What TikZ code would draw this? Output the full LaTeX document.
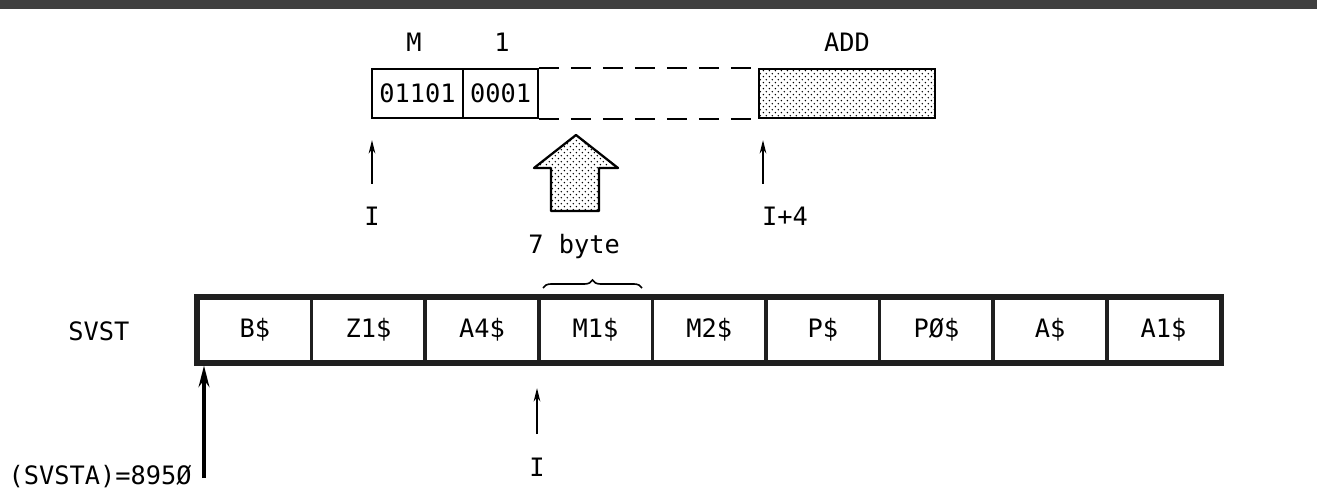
\documentclass[tikz,border=0pt]{standalone}
\usepackage{fontspec}
\setmonofont{DejaVu Sans Mono}
\usetikzlibrary{patterns,patterns.meta,decorations.pathreplacing,arrows.meta}
\tikzdeclarepattern{name=fdots, type=uncolored,
  bounding box={(0pt,0pt) and (4.4pt,4.4pt)}, tile size={(4.4pt,4.4pt)},
  code={\fill (1.1pt,1.1pt) circle (0.6pt); \fill (3.3pt,3.3pt) circle (0.6pt);}}
\tikzset{
  txt/.style={font=\ttfamily\fontsize{19}{21}\selectfont, inner sep=0pt},
  topcell/.style={draw, line width=1.3pt, minimum height=36.75pt, inner sep=0pt, font=\ttfamily\fontsize{19}{21}\selectfont},
  cell/.style={draw, black!88, text=black, line width=2.8pt, minimum width=85.2pt, minimum height=48.5pt, inner sep=0pt, font=\ttfamily\fontsize{19}{21}\selectfont},
  thinarr/.style={line width=1.2pt, -{Stealth[length=10pt,width=5pt]}},
  bigarr/.style={line width=2.8pt, -{Stealth[length=16pt,width=8pt]}},
  dots/.style={pattern={fdots}, pattern color=black}
}
\begin{document}
\begin{tikzpicture}[x=0.75pt,y=-0.75pt]
\useasboundingbox (0,0) rectangle (1317,495);
% scanned top band
\fill[black!75] (0,0) rectangle (1317,9);

% ---- top record ----
\node[topcell, minimum width=68.25pt] (t1) at (417.5,93.5) {01101};
\node[topcell, minimum width=56.25pt] (t2) at (500.5,93.5) {0001};
\node[topcell, minimum width=132pt, dots] (tadd) at (847,93.5) {};
\draw[line width=1.3pt, dash pattern=on 15pt off 9pt] (t2.north east) -- (tadd.north west);
\draw[line width=1.3pt, dash pattern=on 15pt off 9pt] (t2.south east) -- (tadd.south west);

\node[txt] (lm) at (414,42) {M};
\node[txt] (l1) at (502,42) {1};
\node[txt] (ladd) at (847,42) {ADD};

% pointers on top record
\node[txt] (li) at (372,216) {I};
\node[txt] (li4) at (785,216) {I+4};
\coordinate (ia) at (372,184);
\coordinate (ib) at (763,184);
\draw[thinarr, shorten >=16pt] (ia) -- (ia |- t1.south);
\draw[thinarr, shorten >=16pt] (ib) -- (ib |- tadd.south);

% fat arrow
\draw[line width=1.7pt, dots, line join=round]
  (576,135) -- (618,168) -- (599,168) -- (599,211) -- (551,211) -- (551,168) -- (534,168) -- cycle;

% ---- bottom record ----
\node[txt] (svst) at (99,331) {SVST};
\foreach \lab [count=\i] in {B\$,Z1\$,A4\$,M1\$,M2\$,P\$,PØ\$,A\$,A1\$}
  \node[cell] (c\i) at ({198+113.6*(\i-0.5)},330) {\lab};
\draw[line width=3.2pt, black!88] (c1.north west) rectangle (c9.south east);

% brace and size
\coordinate (bra) at (543,288);
\coordinate (brb) at (642,288);
\draw[line width=1.2pt, decorate, decoration={brace, amplitude=6pt}] (bra) -- (brb);
\node[txt] (byte) at (574,247) {7 byte};

% pointer I below
\node[txt] (lib) at (537,467) {I};
\coordinate (ic) at (537,434);
\draw[thinarr, shorten >=18pt] (ic) -- (ic |- c4.south);

% SVSTA pointer
\coordinate (sa) at (204,478);
\draw[bigarr, shorten >=1pt] (sa) -- (sa |- c1.south);
\node[txt, anchor=base east] (svsta) at (192,484) {(SVSTA)=895Ø};
\end{tikzpicture}
\end{document}
